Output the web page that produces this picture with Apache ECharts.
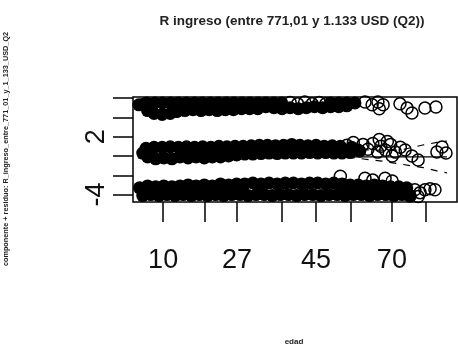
<!DOCTYPE html>
<html><head><meta charset="utf-8">
<script src="https://cdn.jsdelivr.net/npm/echarts@6/dist/echarts.min.js"></script>
<style>html,body{margin:0;padding:0;background:#fff}#c{width:458px;height:345px}</style>
</head><body><div id="c"></div>
<script>
// Tick positions on the x scale and their printed labels (R draws only non-overlapping ones)
const xTickPos = [9.3, 22.2, 32.1, 46.0, 56.5, 67.3, 79.9, 90.4];
const xTickLabels = ['10', '', '27', '', '45', '', '70', ''];
const yTicks = [-4, -2, 0, 2, 4, 6];
const yTickLabels = ['-4', '', '', '2', '', ''];

const titleText = 'R ingreso (entre 771,01 y 1.133 USD (Q2))';
const yTitle = 'componente + residuo: R_ingreso_entre_771_01_y_1_133_USD_Q2';
const xTitle = 'edad';

// Dense (overplotted) parts of each band
const topCore = [[1.8,5.3],[4.2,5.5],[6.7,5.5],[9.1,5.5],[11.6,5.5],[14,5.5],[16.5,5.5],[19,5.5],[21.4,5.5],[23.9,5.5],[26.3,5.5],[28.8,5.5],[31.2,5.5],[33.7,5.5],[36.1,5.5],[38.6,5.5],[41,5.5],[43.5,5.5],[45.9,5.5],[61,5.5],[63.5,5.5],[66,5.5],[68.5,5.5],
  [4.5,4.7],[6.5,4.4],[9,4.3],[11.5,4.4],[13.5,4.6],[16,4.7],[18.5,4.8],[21,4.7],[23.5,4.8],[26,4.7],[28.5,4.8],[31,4.8],[33.5,4.9],[36,4.9],[38.5,4.9],[41,5.1],[43.5,5.0],[46,4.9],[48.5,5],[51,4.9],[53.5,5],[56,5.1],[58.5,5],[61,5.1],[63.5,5.1],[66,5.2]];
const topRings = [[3,5.3],[48.5,5.55],[50.8,5.4],[53,5.6],[55.3,5.4],[57.5,5.55],[59.5,5.4],[71.6,5.6],[73.8,5.3],[75.6,5.6],[77.2,5.3],[76,4.9],[82.4,5.4],[84.6,4.96],[86.1,4.45],[90.1,4.96],[93.5,5.08]];

const midCore = [[3,0.3],[4,0.8],[6.5,0.9],[9,0.9],[11.5,0.95],[14,0.9],[16.5,0.95],[19,0.9],[21.5,0.95],[24,0.9],[26.5,1],[29,0.95],[31.5,1],[34,1.0],[36.5,1.05],[39,1.1],[41.5,1.1],[44,1.05],[46.5,1.1],[49,1.2],[51.5,1.1],[54,1.05],[56.5,1.1],[59,1],[61.5,1.05],[64,1],[67.5,0.9],
  [4.5,-0.1],[7,-0.3],[9.5,-0.2],[12,-0.3],[14.5,-0.1],[17,-0.2],[19.5,-0.1],[22,-0.2],[24.5,-0.1],[27,-0.1],[29.5,0],[32,0.1],[34.5,0.2],[37,0.2],[39.5,0.25],[42,0.3],[44.5,0.25],[47,0.3],[49.5,0.3],[52,0.3],[54.5,0.35],[57,0.3],[59.5,0.35],[62,0.3],[64.5,0.3],[67,0.35],[70,0.5]];
const midRings = [[66,1.1],[68,1.4],[69.5,0.6],[71,1.2],[72.5,0.7],[74,1.3],[75.5,0.4],[76.5,1],[78,0.6],[79.5,1.2],[81,0.4],[82.5,0.9],[80,0],[84,0.62],[86.1,0],[88,-0.41],[93.8,0.41],[95.4,0.93],[96.6,0.31],[76,1.7],[78.5,1.5]];

const lowCore = [[2,-3.3],[4.5,-3.1],[7,-3.2],[9.5,-3.1],[12,-3.2],[14.5,-3.1],[17,-3],[19.5,-3.1],[22,-3],[24.5,-3.1],[27,-2.9],[29.5,-3],[32,-2.9],[34.5,-2.9],[37,-2.8],[39.5,-2.9],[42,-2.8],[44.5,-2.9],[47,-2.8],[49.5,-2.8],[52,-2.9],[54.5,-2.8],[57,-2.8],[59.5,-2.9],[62,-2.8],[64.5,-2.9],[67,-3],[69.5,-3],[72,-3.1],[74.5,-3],[77,-3.1],[79.5,-3.2],[82,-3.2],[84.5,-3.3],
  [3,-4.1],[5.5,-4],[8,-4.1],[10.5,-4],[13,-4.1],[15.5,-4],[18,-4.1],[20.5,-4],[23,-4.1],[25.5,-4],[28,-4.1],[30.5,-4],[33,-4],[35.5,-4.1],[38,-4],[40.5,-4],[43,-4.1],[45.5,-4],[48,-4],[50.5,-4.1],[53,-4],[55.5,-4],[58,-4.1],[60.5,-4],[63,-4],[65.5,-4.1],[68,-4],[70.5,-4],[73,-4.1],[75.5,-4],[78,-4],[80.5,-4.1],[83,-4],[85.5,-4.1]];
const lowRings = [[64,-2.1],[71.6,-2.3],[74,-2.5],[77.8,-2.3],[80,-2.6],[87,-3.5],[88.6,-3.8],[90.1,-3.5],[91.7,-3.4],[93.2,-3.5],[85.5,-4.15],[88,-4.2]];

// Smooth / reference lines
const fitX = [1.5, 96.9];
const fitY = [-0.1, -0.1];
const bandX = [1.5, 40, 60, 76.2, 82.4, 89.5, 93.8, 96.9];
const upperY = [0.5, 0.6, 0.7, 0.6, 0.6, 1.14, 1.4, 1.55];
const lowerY = [-0.2, 0.1, 0.1, -0.5, -0.83, -1.2, -1.55, -1.76];

const zip = (a, b) => a.map((v, i) => [v, b[i]]);
const chart = echarts.init(document.getElementById('c'));
const ringStyle = { color: 'rgba(0,0,0,0)', borderColor: '#000', borderWidth: 1.5, opacity: 1 };
const coreStyle = { color: '#000', opacity: 1 };
const lblX = xTickPos.filter((v, i) => xTickLabels[i] !== '');
const lblY = yTicks.filter((v, i) => yTickLabels[i] !== '');

chart.setOption({
  animation: false,
  grid: { left: 133, right: 1, top: 97, bottom: 143, show: true, borderColor: '#000', borderWidth: 1.5, backgroundColor: 'transparent' },
  xAxis: {
    type: 'value', min: 0, max: 100,
    axisLine: { show: false, onZero: false }, splitLine: { show: false },
    axisTick: { show: true, inside: false, length: 20, customValues: xTickPos, lineStyle: { color: '#000', width: 1.5 } },
    axisLabel: { customValues: lblX, margin: 45, fontSize: 27, color: '#111', fontFamily: 'Liberation Sans',
      formatter: v => { let b = 0; xTickPos.forEach((p, i) => { if (Math.abs(p - v) < Math.abs(xTickPos[b] - v)) b = i; }); return xTickLabels[b]; } }
  },
  yAxis: {
    type: 'value', min: -4.77, max: 6.11,
    axisLine: { show: false, onZero: false }, splitLine: { show: false },
    axisTick: { show: true, inside: false, length: 20, customValues: yTicks, lineStyle: { color: '#000', width: 1.5 } },
    axisLabel: { customValues: lblY, rotate: 90, margin: 23, fontSize: 27, color: '#111', fontFamily: 'Liberation Sans',
      formatter: v => { let b = 0; yTicks.forEach((p, i) => { if (Math.abs(p - v) < Math.abs(yTicks[b] - v)) b = i; }); return yTickLabels[b]; } }
  },
  graphic: [
    { type: 'text', x: 292, y: 21, style: { text: titleText, textAlign: 'center', textVerticalAlign: 'middle', font: 'bold 13.5px "Liberation Sans"', fill: '#222' } },
    { type: 'text', x: 6, y: 149, rotation: Math.PI / 2, style: { text: yTitle, textAlign: 'center', textVerticalAlign: 'middle', font: 'bold 7.3px "Liberation Sans"', fill: '#222' } },
    { type: 'text', x: 294, y: 342, style: { text: xTitle, textAlign: 'center', textVerticalAlign: 'middle', font: 'bold 8px "Liberation Sans"', fill: '#222' } }
  ],
  series: [
    { type: 'scatter', data: topCore, symbolSize: 13, itemStyle: coreStyle, clip: false },
    { type: 'scatter', data: midCore, symbolSize: 13, itemStyle: coreStyle, clip: false },
    { type: 'scatter', data: lowCore, symbolSize: 13, itemStyle: coreStyle, clip: false },
    { type: 'scatter', data: topRings, symbolSize: 12, itemStyle: ringStyle, clip: false },
    { type: 'scatter', data: midRings, symbolSize: 12, itemStyle: ringStyle, clip: false },
    { type: 'scatter', data: lowRings, symbolSize: 12, itemStyle: ringStyle, clip: false },
    { type: 'line', data: zip(fitX, fitY), showSymbol: false, lineStyle: { color: '#000', width: 1.2 } },
    { type: 'line', data: zip(bandX, upperY), showSymbol: false, lineStyle: { color: '#000', width: 1.2, type: [7, 7] } },
    { type: 'line', data: zip(bandX, lowerY), showSymbol: false, lineStyle: { color: '#000', width: 1.2, type: [7, 7] } }
  ]
});
</script></body></html>
